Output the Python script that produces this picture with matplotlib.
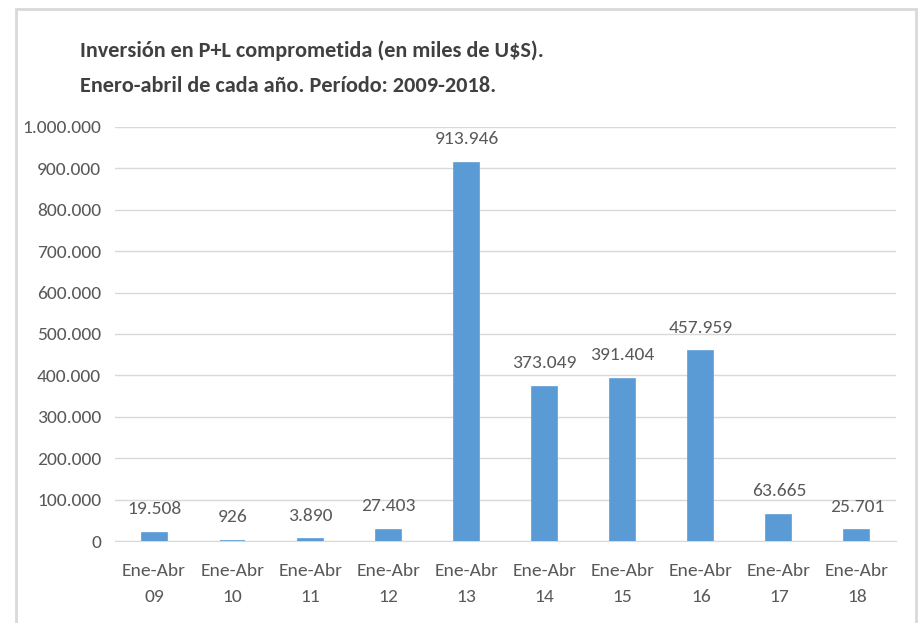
import matplotlib
matplotlib.use("Agg")
import matplotlib.pyplot as plt
from matplotlib.patches import Rectangle
from matplotlib.ticker import FuncFormatter
from matplotlib import font_manager

categories = ["Ene-Abr\n09", "Ene-Abr\n10", "Ene-Abr\n11", "Ene-Abr\n12", "Ene-Abr\n13",
              "Ene-Abr\n14", "Ene-Abr\n15", "Ene-Abr\n16", "Ene-Abr\n17", "Ene-Abr\n18"]
values = [19508, 926, 3890, 27403, 913946, 373049, 391404, 457959, 63665, 25701]
title_lines = ["Inversión en P+L comprometida (en miles de U$S).",
               "Enero-abril de cada año. Período: 2009-2018."]

# Calibri-like font, whichever is installed
names = {f.name for f in font_manager.fontManager.ttflist}
font = "DejaVu Sans"
for cand in ["Carlito", "Roboto Condensed", "Open Sans Condensed", "Liberation Sans Narrow",
             "Archivo Narrow", "Asap Condensed"]:
    if cand in names:
        font = cand
        break
plt.rcParams["font.family"] = [font, "DejaVu Sans"]

W, H = 919, 623
fig = plt.figure(figsize=(W / 100, H / 100), dpi=100)
fig.patch.set_facecolor("white")

# outer chart frame (bottom edge runs off the picture)
fig.patches.append(Rectangle((16 / W, -0.05), (916 - 16) / W, 1.05 - 9 / H,
                             transform=fig.transFigure, fill=False,
                             edgecolor="#D9D9D9", linewidth=2))

ax = fig.add_axes([115 / W, 1 - 541 / H, (896 - 115) / W, (541 - 127) / H])
x = range(len(values))
bars = ax.bar(x, values, width=0.32, color="#5B9BD5", edgecolor="#5B9BD5",
              linewidth=1.2, zorder=3)
ax.set_xlim(-0.5, len(values) - 0.5)
ax.set_ylim(0, 1000000)
ax.set_yticks(range(0, 1000001, 100000))
ax.yaxis.set_major_formatter(FuncFormatter(lambda v, p: f"{int(v):,}".replace(",", ".")))
ax.set_xticks(list(x))
ax.set_xticklabels(categories)
ax.grid(axis="y", color="#D9D9D9", linewidth=1, zorder=0)
for s in ["top", "right", "left"]:
    ax.spines[s].set_visible(False)
ax.spines["bottom"].set_color("#D9D9D9")
ax.tick_params(axis="both", length=0, labelsize=14, colors="#595959")
ax.tick_params(axis="y", pad=10)
ax.tick_params(axis="x", pad=16)
for t in ax.get_xticklabels():
    t.set_linespacing(1.75)

# value labels above bars
for b, v in zip(bars, values):
    ax.annotate(f"{v:,}".replace(",", "."), (b.get_x() + b.get_width() / 2, v),
                xytext=(0, 17), textcoords="offset points", ha="center", va="center",
                fontsize=14, color="#595959")

fig.text(80 / W, 1 - 51 / H, title_lines[0], fontsize=16, fontweight="bold",
         color="#404040", va="center", ha="left")
fig.text(80 / W, 1 - 86 / H, title_lines[1], fontsize=16, fontweight="bold",
         color="#404040", va="center", ha="left")

fig.savefig("out.png", dpi=100)
